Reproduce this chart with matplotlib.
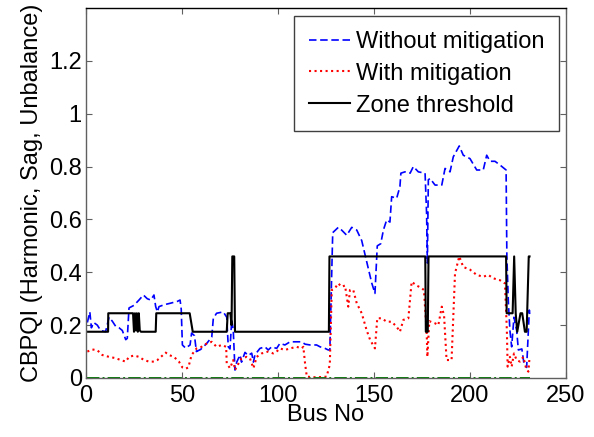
import matplotlib
matplotlib.use("Agg")
import matplotlib.pyplot as plt

plt.rcParams['font.family'] = ['Liberation Sans', 'DejaVu Sans']

# ---- data ----
blue_x = [0.7, 2, 2.8, 4, 5.9, 7.6, 10.2, 12, 13.7, 15.5, 17.2, 18.9, 20.7, 21.5, 22.4, 25, 27.6,
          29.9, 31.9, 33.7, 35.4, 36.3, 37.2, 38, 40.6, 44, 47.6, 49, 49.6, 50.2, 51.9, 54.2, 55,
          56.5, 57.5, 59.7, 62.8, 65.5, 66.3, 68, 71.5, 73.3, 74.1, 75, 75.9, 76.7, 77.6, 78.5,
          80.2, 81, 82.8, 84.5, 86.3, 87.2, 88, 90.6, 93.2, 94.9, 96.7, 99.3, 101, 103.6, 106.3,
          109.7, 112.3, 114.1, 116.7, 120.1, 121.9, 124.5, 126.2, 127, 128, 128.5, 131.4, 133.1,
          135.8, 138.4, 141, 143.6, 146.2, 148.8, 150.5, 151.7, 153.5, 154.9, 156.6, 158.3, 159.2,
          161.8, 163.5, 164, 166.1, 168.8, 170.5, 173.1, 176.6, 177.4, 177.8, 178.3, 179.2, 181.8,
          185.3, 187, 189.6, 191.3, 194.4, 196.5, 200, 203.5, 206.9, 208.7, 210.4, 213, 215.6,
          218.8, 219.2, 220, 220.8, 221.7, 222.9, 224.3, 225.2, 227, 228.1, 229.5, 230.9, 231.2]
blue_y = [0.21, 0.25, 0.19, 0.21, 0.20, 0.18, 0.175, 0.23, 0.215, 0.195, 0.19, 0.18, 0.145, 0.15,
          0.265, 0.275, 0.295, 0.314, 0.30, 0.295, 0.314, 0.27, 0.25, 0.27, 0.277, 0.283, 0.29,
          0.295, 0.26, 0.125, 0.113, 0.125, 0.17, 0.16, 0.10, 0.108, 0.13, 0.155, 0.225, 0.245,
          0.25, 0.23, 0.118, 0.11, 0.22, 0.18, 0.03, 0.06, 0.087, 0.06, 0.097, 0.085, 0.094, 0.06,
          0.088, 0.112, 0.118, 0.106, 0.118, 0.112, 0.131, 0.125, 0.137, 0.137, 0.137, 0.128,
          0.125, 0.125, 0.118, 0.112, 0.106, 0.106, 0.40, 0.55, 0.57, 0.56, 0.54, 0.57, 0.56,
          0.52, 0.44, 0.36, 0.32, 0.50, 0.508, 0.56, 0.598, 0.59, 0.686, 0.68, 0.724, 0.775,
          0.78, 0.775, 0.80, 0.78, 0.775, 0.62, 0.435, 0.75, 0.755, 0.73, 0.73, 0.793, 0.78,
          0.837, 0.878, 0.843, 0.83, 0.787, 0.787, 0.843, 0.82, 0.82, 0.806, 0.787, 0.46, 0.283,
          0.18, 0.118, 0.23, 0.18, 0.106, 0.11, 0.055, 0.04, 0.257, 0.23]

red_x = [0.7, 3.3, 5.9, 8.5, 12, 15.5, 18, 20.7, 22.4, 25, 27.6, 30.2, 32.8, 35.4, 37.2, 39.8,
         41.5, 43.2, 45.8, 48.4, 50.2, 51.9, 53.3, 55, 57.6, 60.2, 62.8, 65.5, 68, 70.7, 73,
         73.3, 75, 76.7, 77.6, 78.5, 81, 83.7, 85.4, 87.2, 88.9, 91.5, 94.9, 97.5, 99.3, 101,
         103.6, 106.3, 109.7, 112.3, 113.2, 114.1, 115, 118.4, 121, 125.3, 126.7, 127, 128,
         129.7, 131.4, 133.1, 134.9, 136.6, 137.5, 139.2, 141, 143.6, 146.2, 148, 150.5, 151.7,
         154, 156.6, 159.2, 161.8, 163.5, 165.3, 167.9, 169.6, 172.2, 174.8, 176, 177.4, 177.8,
         178.8, 181.8, 183.5, 185.3, 186.5, 187.8, 190.4, 192.2, 194.4, 196.5, 200, 203.5, 206.9,
         209.5, 212.2, 215.6, 218.2, 219.2, 219.6, 220.8, 221.7, 222.9, 224.3, 226, 227.8,
         229.2, 230.4, 230.9]
red_y = [0.10, 0.108, 0.105, 0.087, 0.08, 0.075, 0.068, 0.062, 0.08, 0.085, 0.08, 0.068, 0.062,
         0.062, 0.068, 0.085, 0.096, 0.087, 0.08, 0.062, 0.04, 0.035, 0.04, 0.087, 0.112, 0.118,
         0.13, 0.137, 0.118, 0.125, 0.118, 0.055, 0.037, 0.068, 0.03, 0.043, 0.074, 0.08, 0.074,
         0.037, 0.08, 0.093, 0.10, 0.093, 0.10, 0.112, 0.106, 0.112, 0.118, 0.112, 0.118, 0.055,
         0.005, 0.003, 0.003, 0.005, 0.043, 0.055, 0.333, 0.34, 0.358, 0.345, 0.35, 0.27, 0.333,
         0.333, 0.283, 0.245, 0.18, 0.144, 0.112, 0.226, 0.226, 0.213, 0.213, 0.194, 0.175, 0.22,
         0.226, 0.364, 0.35, 0.34, 0.333, 0.18, 0.08, 0.215, 0.207, 0.2, 0.27, 0.235, 0.068,
         0.068, 0.396, 0.46, 0.42, 0.41, 0.39, 0.383, 0.39, 0.377, 0.37, 0.358, 0.18, 0.043,
         0.08, 0.043, 0.093, 0.068, 0.062, 0.08, 0.037, 0.024, 0.068]

thr_x = [0.5, 11.5, 11.6, 24.5, 25, 25.5, 26, 26.5, 27, 27.5, 28, 28.6, 36.3, 36.6, 54, 55.6,
         73.3, 73.8, 75.2, 75.8, 76.2, 77.2, 77.6, 126.5, 126.8, 176.7, 177.0, 178.0, 178.4,
         218.8, 219.1, 222.2, 223.0, 223.8, 224.6, 226.3, 227.2, 228.6, 229.5, 230.6, 231.0]
thr_y = [0.175, 0.175, 0.245, 0.245, 0.175, 0.245, 0.18, 0.245, 0.175, 0.245, 0.18, 0.175,
         0.175, 0.245, 0.245, 0.175, 0.175, 0.245, 0.245, 0.20, 0.46, 0.46, 0.175, 0.175, 0.46,
         0.46, 0.175, 0.175, 0.46, 0.46, 0.245, 0.245, 0.46, 0.245, 0.175, 0.245, 0.245, 0.175,
         0.175, 0.46, 0.46]

zero_x = [0.5, 231]
zero_y = [0, 0]

labels = ['Without mitigation', 'With mitigation', 'Zone threshold']

# ---- figure ----
fig = plt.figure(figsize=(5.94, 4.37), dpi=100)
ax = fig.add_axes([86 / 594, 1 - 378 / 437, 480 / 594, 370 / 437])

ax.plot(blue_x, blue_y, color='#0000ff', linestyle='--', linewidth=1.2, dashes=(4.5, 2.2), label=labels[0])
ax.plot(red_x, red_y, color='#ff0000', linestyle=':', linewidth=1.5, label=labels[1])
ax.plot(thr_x, thr_y, color='black', linestyle='-', linewidth=1.5, label=labels[2])
ax.plot(zero_x, zero_y, color='#008000', linestyle='-.', linewidth=1.4)

ax.set_xlim(0, 250)
ax.set_ylim(0, 1.4)
ax.set_xticks([0, 50, 100, 150, 200, 250])
ax.set_yticks([0, 0.2, 0.4, 0.6, 0.8, 1, 1.2])
ax.set_yticklabels(['0', '0.2', '0.4', '0.6', '0.8', '1', '1.2'])
ax.tick_params(direction='in', top=True, right=True, length=4, width=0.8,
               labelsize=17, colors='#606060', labelcolor='black')
ax.tick_params(axis='x', pad=5)
ax.tick_params(axis='y', pad=3)
for s in ax.spines.values():
    s.set_color('#606060')
    s.set_linewidth(1.0)
ax.spines['top'].set_color('black')

ax.set_xlabel('Bus No', fontsize=17, labelpad=-2)
ax.set_ylabel('CBPQI (Harmonic, Sag, Unbalance)', fontsize=17, labelpad=4)

leg = ax.legend(loc='upper right', bbox_to_anchor=(0.986, 0.978), borderaxespad=0,
                fontsize=17, fancybox=False, framealpha=1, edgecolor='#404040',
                handlelength=1.75, handletextpad=0.25, borderpad=0.62, labelspacing=0.42)
leg.get_frame().set_linewidth(1.0)

fig.savefig('out.png', dpi=100)
